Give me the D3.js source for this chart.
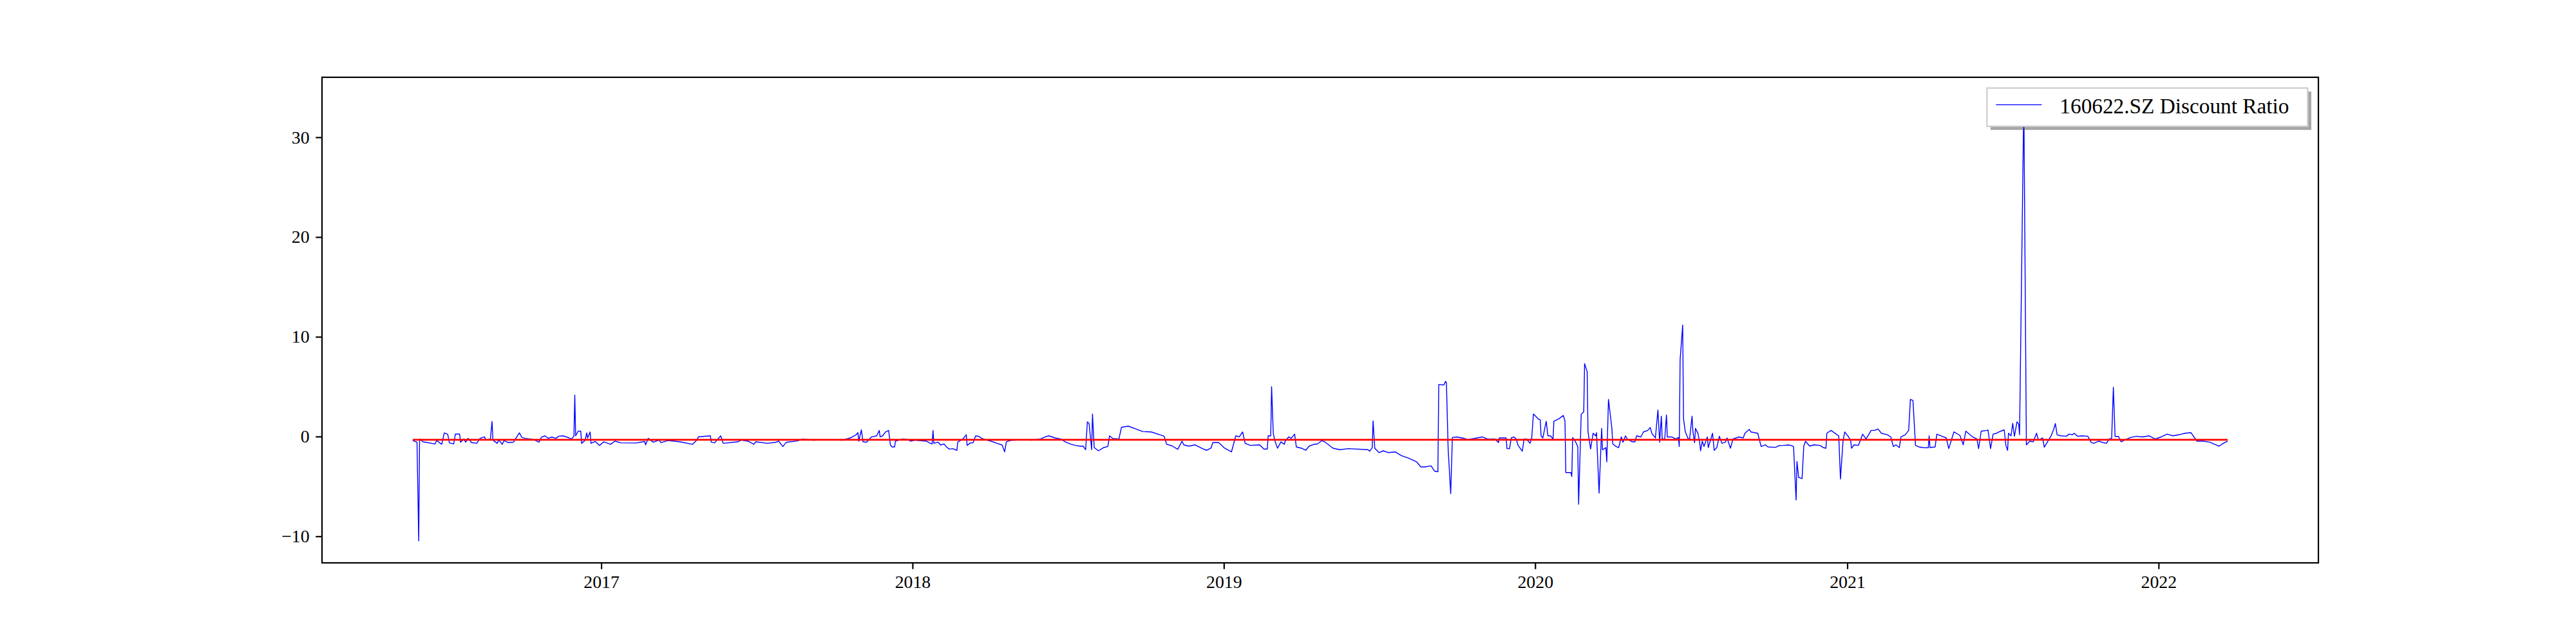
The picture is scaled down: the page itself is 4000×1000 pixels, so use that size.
<!DOCTYPE html>
<html>
<head>
<meta charset="utf-8">
<script src="https://cdn.jsdelivr.net/npm/d3@7"></script>
<style>
  body { margin: 0; background: #fff; }
  text { font-family: "Liberation Serif", "Times New Roman", serif; fill: #000; }
</style>
</head>
<body>
<svg id="chart"></svg>
<script>
// discount ratio (sparse sample of the daily series)
const dates = [
  '2016-05-25','2016-05-30','2016-06-01','2016-06-02','2016-06-06','2016-06-20','2016-06-22','2016-06-28',
  '2016-07-01','2016-07-05','2016-07-07','2016-07-12','2016-07-14','2016-07-19','2016-07-20','2016-07-24',
  '2016-07-26','2016-07-29','2016-08-02','2016-08-08','2016-08-12','2016-08-17','2016-08-19','2016-08-24',
  '2016-08-26','2016-08-27','2016-09-01','2016-09-03','2016-09-07','2016-09-09','2016-09-14','2016-09-20',
  '2016-09-27','2016-09-30','2016-10-04','2016-10-14','2016-10-20','2016-10-23','2016-10-27','2016-10-31',
  '2016-11-04','2016-11-09','2016-11-12','2016-11-17','2016-11-22','2016-11-27','2016-11-30','2016-12-01',
  '2016-12-02','2016-12-05','2016-12-08','2016-12-09','2016-12-13','2016-12-15','2016-12-16','2016-12-19',
  '2016-12-20','2016-12-25','2016-12-30',
  '2017-01-04','2017-01-12','2017-01-17','2017-01-24','2017-02-11','2017-02-21','2017-02-22','2017-02-25',
  '2017-03-03','2017-03-10','2017-03-12','2017-03-20','2017-04-03','2017-04-18','2017-04-23','2017-04-25',
  '2017-04-30','2017-05-09','2017-05-10','2017-05-14','2017-05-21','2017-05-24','2017-06-10','2017-06-14',
  '2017-06-22','2017-06-29','2017-07-01','2017-07-15','2017-07-25','2017-07-28','2017-08-02','2017-08-06',
  '2017-08-18','2017-08-25','2017-09-07','2017-09-24','2017-10-11','2017-10-20','2017-10-27','2017-10-29',
  '2017-10-30','2017-11-02','2017-11-04','2017-11-08','2017-11-10','2017-11-14','2017-11-20','2017-11-23',
  '2017-11-24','2017-11-27','2017-11-30','2017-12-04','2017-12-06','2017-12-08','2017-12-11','2017-12-12',
  '2017-12-16','2017-12-21','2017-12-26','2017-12-30',
  '2018-01-04','2018-01-17','2018-01-22','2018-01-24','2018-01-25','2018-01-26','2018-01-31','2018-02-03',
  '2018-02-07','2018-02-10','2018-02-13','2018-02-17','2018-02-22','2018-02-23','2018-03-01','2018-03-05',
  '2018-03-06','2018-03-10','2018-03-13','2018-03-16','2018-03-20','2018-03-23','2018-03-29','2018-04-03',
  '2018-04-10','2018-04-16','2018-04-19','2018-04-21','2018-04-25','2018-04-30','2018-05-14','2018-05-21',
  '2018-05-31','2018-06-07','2018-06-10','2018-06-17','2018-06-24','2018-06-29','2018-07-06','2018-07-11',
  '2018-07-16','2018-07-20','2018-07-23','2018-07-25','2018-07-27','2018-07-30','2018-07-31','2018-08-02',
  '2018-08-07','2018-08-13','2018-08-18','2018-08-20','2018-08-24','2018-08-31','2018-09-03','2018-09-11',
  '2018-09-21','2018-09-28','2018-10-08','2018-10-18','2018-10-23','2018-10-26','2018-11-01','2018-11-08',
  '2018-11-13','2018-11-15','2018-11-21','2018-11-28','2018-12-07','2018-12-12','2018-12-17','2018-12-19',
  '2018-12-26',
  '2019-01-02','2019-01-10','2019-01-15','2019-01-19','2019-01-23','2019-01-26','2019-02-01','2019-02-12',
  '2019-02-17','2019-02-21','2019-02-22','2019-02-25','2019-02-26','2019-02-28','2019-03-02','2019-03-05',
  '2019-03-09','2019-03-13','2019-03-14','2019-03-18','2019-03-21','2019-03-25','2019-03-27','2019-04-02',
  '2019-04-07','2019-04-11','2019-04-17','2019-04-21','2019-04-26','2019-04-30','2019-05-09','2019-05-17',
  '2019-05-27','2019-06-19','2019-06-21','2019-06-24','2019-06-25','2019-06-27','2019-07-02','2019-07-07',
  '2019-07-13','2019-07-21','2019-07-28','2019-08-06','2019-08-15','2019-08-20','2019-08-25','2019-09-01',
  '2019-09-05','2019-09-09','2019-09-10','2019-09-16','2019-09-18','2019-09-19','2019-09-21','2019-09-24',
  '2019-09-26','2019-10-01','2019-10-10','2019-10-14','2019-10-18','2019-10-25','2019-10-31','2019-11-06',
  '2019-11-15','2019-11-19','2019-11-20','2019-11-28','2019-11-29','2019-12-02','2019-12-04','2019-12-07',
  '2019-12-10','2019-12-12','2019-12-17','2019-12-19','2019-12-22','2019-12-26','2019-12-28','2019-12-30',
  '2020-01-05','2020-01-07','2020-01-08','2020-01-10','2020-01-14','2020-01-16','2020-01-19','2020-01-22',
  '2020-01-23','2020-01-29','2020-02-03','2020-02-05','2020-02-06','2020-02-12','2020-02-13','2020-02-14',
  '2020-02-17','2020-02-20','2020-02-21','2020-02-24','2020-02-27','2020-02-28','2020-03-02','2020-03-03',
  '2020-03-06','2020-03-09','2020-03-12','2020-03-13','2020-03-16','2020-03-19','2020-03-20','2020-03-24',
  '2020-03-25','2020-03-27','2020-03-31','2020-04-01','2020-04-05','2020-04-08','2020-04-11','2020-04-13',
  '2020-04-16','2020-04-18','2020-04-24','2020-04-27','2020-04-29','2020-05-04','2020-05-07','2020-05-12',
  '2020-05-15','2020-05-17','2020-05-21','2020-05-24','2020-05-26','2020-05-28','2020-05-29','2020-06-01',
  '2020-06-03','2020-06-04','2020-06-09','2020-06-14','2020-06-17','2020-06-18','2020-06-19','2020-06-22',
  '2020-06-23','2020-06-25','2020-06-28','2020-06-30','2020-07-03','2020-07-04','2020-07-06','2020-07-07',
  '2020-07-10','2020-07-12','2020-07-13','2020-07-15','2020-07-17','2020-07-21','2020-07-22','2020-07-27',
  '2020-07-29','2020-08-01','2020-08-04','2020-08-07','2020-08-11','2020-08-13','2020-08-17','2020-08-20',
  '2020-08-27','2020-09-01','2020-09-03','2020-09-08','2020-09-10','2020-09-14','2020-09-18','2020-09-22',
  '2020-09-27','2020-09-30','2020-10-09','2020-10-13','2020-10-18','2020-10-24','2020-10-27','2020-10-30',
  '2020-11-02','2020-11-03','2020-11-05','2020-11-09','2020-11-11','2020-11-13','2020-11-18','2020-11-23',
  '2020-11-30','2020-12-04','2020-12-07','2020-12-08','2020-12-13','2020-12-20','2020-12-22','2020-12-24',
  '2020-12-27','2020-12-29',
  '2021-01-02','2021-01-05','2021-01-06','2021-01-09','2021-01-14','2021-01-19','2021-01-23','2021-01-29',
  '2021-02-02','2021-02-06','2021-02-10','2021-02-17','2021-02-21','2021-02-24','2021-02-27','2021-03-03',
  '2021-03-05','2021-03-10','2021-03-14','2021-03-16','2021-03-19','2021-03-22','2021-03-26','2021-03-31',
  '2021-04-06','2021-04-07','2021-04-08','2021-04-14','2021-04-16','2021-04-22','2021-04-27','2021-04-30',
  '2021-05-06','2021-05-13','2021-05-17','2021-05-20','2021-05-28','2021-06-02','2021-06-04','2021-06-07',
  '2021-06-14','2021-06-15','2021-06-18','2021-06-21','2021-06-25','2021-06-30','2021-07-04','2021-07-06',
  '2021-07-08','2021-07-09','2021-07-12','2021-07-14','2021-07-16','2021-07-19','2021-07-21','2021-07-22',
  '2021-07-27','2021-07-30','2021-08-03','2021-08-07','2021-08-11','2021-08-13','2021-08-18','2021-08-20',
  '2021-08-25','2021-08-28','2021-08-31','2021-09-02','2021-09-04','2021-09-08','2021-09-15','2021-09-18',
  '2021-09-22','2021-09-24','2021-09-28','2021-10-03','2021-10-10','2021-10-14','2021-10-17','2021-10-23',
  '2021-10-28','2021-11-01','2021-11-04','2021-11-07','2021-11-09','2021-11-11','2021-11-15','2021-11-18',
  '2021-11-22','2021-11-29','2021-12-06','2021-12-13','2021-12-21','2021-12-28',
  '2022-01-04','2022-01-11','2022-01-18','2022-01-25','2022-02-01','2022-02-08','2022-02-15','2022-02-22',
  '2022-03-02','2022-03-09','2022-03-13','2022-03-18','2022-03-23'
];

const ratios = [
  -0.40,-0.57,-10.45,-0.25,-0.53,-0.74,-0.40,-0.78,
  0.37,0.22,-0.63,-0.74,0.25,0.25,-0.57,-0.25,
  -0.57,-0.18,-0.61,-0.68,-0.18,-0.03,-0.36,-0.25,
  1.51,-0.36,-0.68,-0.36,-0.78,-0.40,-0.61,-0.57,
  0.37,-0.10,-0.18,-0.31,-0.57,-0.06,0.07,-0.18,
  -0.06,-0.18,0.03,0.07,-0.06,-0.25,0.03,4.15,
  0.07,0.54,0.54,-0.68,-0.40,0.37,-0.14,0.46,
  -0.68,-0.49,-0.89,
  -0.53,-0.78,-0.46,-0.63,-0.65,-0.49,-0.83,-0.18,
  -0.57,-0.36,-0.61,-0.40,-0.53,-0.78,-0.36,-0.03,
  0.01,0.07,-0.57,-0.63,0.07,-0.68,-0.53,-0.36,
  -0.46,-0.78,-0.53,-0.68,-0.57,-0.46,-1.00,-0.57,
  -0.45,-0.27,-0.36,-0.31,-0.36,-0.14,0.18,0.39,
  -0.46,0.67,-0.53,-0.57,-0.40,-0.03,0.07,0.61,
  -0.03,0.07,0.44,0.61,-0.83,-1.04,-1.04,-0.46,
  -0.36,-0.25,-0.31,-0.46,
  -0.36,-0.46,-0.68,-0.74,0.61,-0.68,-0.57,-0.85,
  -0.74,-1.06,-1.26,-1.21,-1.38,-0.57,-0.25,0.18,
  -0.89,-0.63,-0.63,0.07,0.01,-0.18,-0.36,-0.46,
  -0.68,-0.85,-1.53,-0.53,-0.40,-0.36,-0.31,-0.36,
  -0.25,0.01,0.07,-0.14,-0.25,-0.53,-0.78,-0.89,
  -0.96,-0.96,-1.32,1.47,1.32,-1.32,2.26,-1.11,
  -1.43,-1.11,-1.00,0.07,-0.20,-0.25,0.93,1.04,
  0.72,0.50,0.46,0.18,0.03,-0.78,-0.93,-1.28,
  -0.46,-0.83,-0.96,-0.83,-1.21,-1.38,-1.15,-0.61,
  -0.61,
  -1.17,-1.53,0.07,-0.03,0.46,-0.68,-0.89,-0.83,
  -1.25,-1.25,0.07,0.07,5.00,0.29,-0.46,-1.17,
  -0.53,-0.78,-0.46,-0.03,-0.18,0.24,-1.04,-1.17,
  -1.38,-0.96,-0.78,-0.74,-0.40,-0.57,-1.17,-1.32,
  -1.21,-1.32,-1.47,-1.11,1.57,-1.17,-1.61,-1.43,
  -1.61,-1.54,-1.90,-2.18,-2.54,-3.04,-3.04,-2.94,
  -3.46,-3.53,5.21,5.17,5.54,5.39,-1.21,-5.72,
  -0.10,-0.04,-0.19,-0.31,-0.25,-0.14,-0.04,-0.25,
  -0.25,-0.61,-0.14,-0.14,-1.21,-1.21,-0.14,-0.04,
  -0.25,-0.89,-1.47,-0.25,-0.25,-0.68,-0.14,2.26,
  1.74,1.67,0.07,-0.14,1.53,0.07,0.07,-0.25,
  1.53,1.79,2.11,1.57,-3.61,-3.61,-4.00,-0.10,
  -0.46,-1.00,-6.79,2.22,2.47,7.31,6.50,0.50,
  -1.25,0.33,0.07,0.39,-5.67,0.82,-1.32,-1.11,
  -2.54,3.72,0.82,-0.74,-1.00,-1.11,-0.04,-0.57,
  0.07,-0.25,-0.53,-0.53,0.07,-0.04,0.46,0.61,
  0.89,0.29,-0.14,2.65,-0.57,2.04,-0.25,-0.25,
  2.17,-0.04,-0.04,-0.25,-0.10,-1.00,7.68,11.18,
  1.79,0.50,-0.14,-0.36,2.04,0.50,-0.61,0.82,
  0.29,-0.61,-1.43,-0.46,-1.00,-0.04,-1.11,0.33,
  -1.39,-1.11,0.03,-0.68,-0.57,-0.14,-1.17,-0.25,
  -0.04,-0.14,0.33,0.72,0.46,0.39,0.33,-1.00,
  -0.83,-1.04,-1.08,-0.91,-0.89,-0.85,-0.89,-1.00,
  -6.36,-2.50,-4.10,-4.21,-0.96,-0.48,-0.96,-0.83,
  -0.89,-1.11,-1.17,0.33,0.61,0.18,0.07,-4.26,
  -0.46,0.46,
  0.03,-0.40,-1.17,-0.83,-0.89,0.24,-0.25,0.61,
  0.61,0.76,0.33,0.18,-0.04,-1.00,-0.83,-1.11,
  -0.04,0.18,0.61,3.72,3.61,-0.89,-1.04,-1.11,
  -1.13,0.07,-1.11,-1.04,0.24,0.03,-0.14,-1.21,
  0.46,0.12,-0.83,0.54,-0.04,-0.25,-1.21,0.54,
  0.61,0.67,-1.21,0.24,0.33,0.54,0.67,-0.89,
  -1.38,0.33,0.07,1.32,0.03,1.47,1.26,0.18,
  33.8,-0.83,-0.46,-0.53,0.33,-0.36,-0.14,-1.06,
  -0.36,0.07,0.72,1.30,0.18,0.07,0.03,0.24,
  0.18,0.33,0.03,0.07,0.03,-0.58,-0.68,-0.46,
  -0.61,-0.68,-0.25,-0.18,4.94,0.01,0.01,-0.53,
  -0.36,-0.10,0.03,-0.04,0.07,-0.25,
  -0.04,0.24,0.07,0.18,0.33,0.39,-0.46,-0.46,
  -0.57,-0.83,-0.96,-0.68,-0.46
];

const meanRatio = -0.33;            // red reference line
const seriesLabel = '160622.SZ Discount Ratio';
const yTicks = [-10, 0, 10, 20, 30];
const xTickYears = ['2017', '2018', '2019', '2020', '2021', '2022'];

const WIDTH = 4000, HEIGHT = 1000;
const margin = { top: 120, right: 400, bottom: 126, left: 500 };
const innerW = WIDTH - margin.left - margin.right;
const innerH = HEIGHT - margin.top - margin.bottom;
const TICK_FONT = 27.8, LEGEND_FONT = 33.3;

const parseDay = d3.timeParse('%Y-%m-%d');
const parseYear = d3.timeParse('%Y');
const data = dates.map((d, i) => ({ date: parseDay(d), value: ratios[i] }));

const svg = d3.select('#chart').attr('width', WIDTH).attr('height', HEIGHT);
const g = svg.append('g').attr('transform', `translate(${margin.left},${margin.top})`);

// matplotlib style 5% margins around the data
const [t0, t1] = d3.extent(data, d => d.date);
const tPad = (t1 - t0) * 0.05;
const x = d3.scaleTime().domain([new Date(+t0 - tPad), new Date(+t1 + tPad)]).range([0, innerW]);

const [v0, v1] = d3.extent(data, d => d.value);
const vPad = (v1 - v0) * 0.05;
const y = d3.scaleLinear().domain([v0 - vPad, v1 + vPad]).range([innerH, 0]);

const xAxis = d3.axisBottom(x)
    .tickValues(xTickYears.map(parseYear))
    .tickFormat(d3.timeFormat('%Y'))
    .tickSize(9.7).tickPadding(9.7);
const yAxis = d3.axisLeft(y)
    .tickValues(yTicks)
    .tickFormat(d => d < 0 ? '\u2212' + Math.abs(d) : String(d))
    .tickSize(9.7).tickPadding(9.7);

const gx = g.append('g').attr('transform', `translate(0,${innerH})`).call(xAxis);
const gy = g.append('g').call(yAxis);
[gx, gy].forEach(a => {
    a.select('.domain').remove();
    a.selectAll('.tick line').attr('stroke', '#000').attr('stroke-width', 2.2);
    a.selectAll('.tick text').style('font-size', TICK_FONT + 'px')
        .style('font-family', '"Liberation Serif", "Times New Roman", serif').attr('fill', '#000');
});

// series
const line = d3.line().x(d => x(d.date)).y(d => y(d.value));
g.append('path').datum(data)
    .attr('fill', 'none').attr('stroke', 'blue').attr('stroke-width', 1.4)
    .attr('stroke-linejoin', 'round')
    .attr('d', line);

g.append('line')
    .attr('x1', x(t0)).attr('x2', x(t1))
    .attr('y1', y(meanRatio)).attr('y2', y(meanRatio))
    .attr('stroke', 'red').attr('stroke-width', 2.8);

// frame
g.append('rect').attr('width', innerW).attr('height', innerH)
    .attr('fill', 'none').attr('stroke', '#000').attr('stroke-width', 2.2);

// legend, upper right with shadow
const legW = 498, legH = 59.5, pad = LEGEND_FONT * 0.5;
const legX = innerW - pad - legW, legY = pad;
const legend = g.append('g').attr('transform', `translate(${legX},${legY})`);
legend.append('rect').attr('x', 5.6).attr('y', 5.6).attr('width', legW).attr('height', legH)
    .attr('fill', '#4d4d4d').attr('fill-opacity', 0.5);
legend.append('rect').attr('width', legW).attr('height', legH)
    .attr('fill', '#fff').attr('stroke', '#cccccc').attr('stroke-width', 2.2);
legend.append('line').attr('x1', 14).attr('x2', 85).attr('y1', 26).attr('y2', 26)
    .attr('stroke', 'blue').attr('stroke-width', 1.4);
legend.append('text').attr('x', 113).attr('y', 39)
    .style('font-size', LEGEND_FONT + 'px')
    .text(seriesLabel);
</script>
</body>
</html>
